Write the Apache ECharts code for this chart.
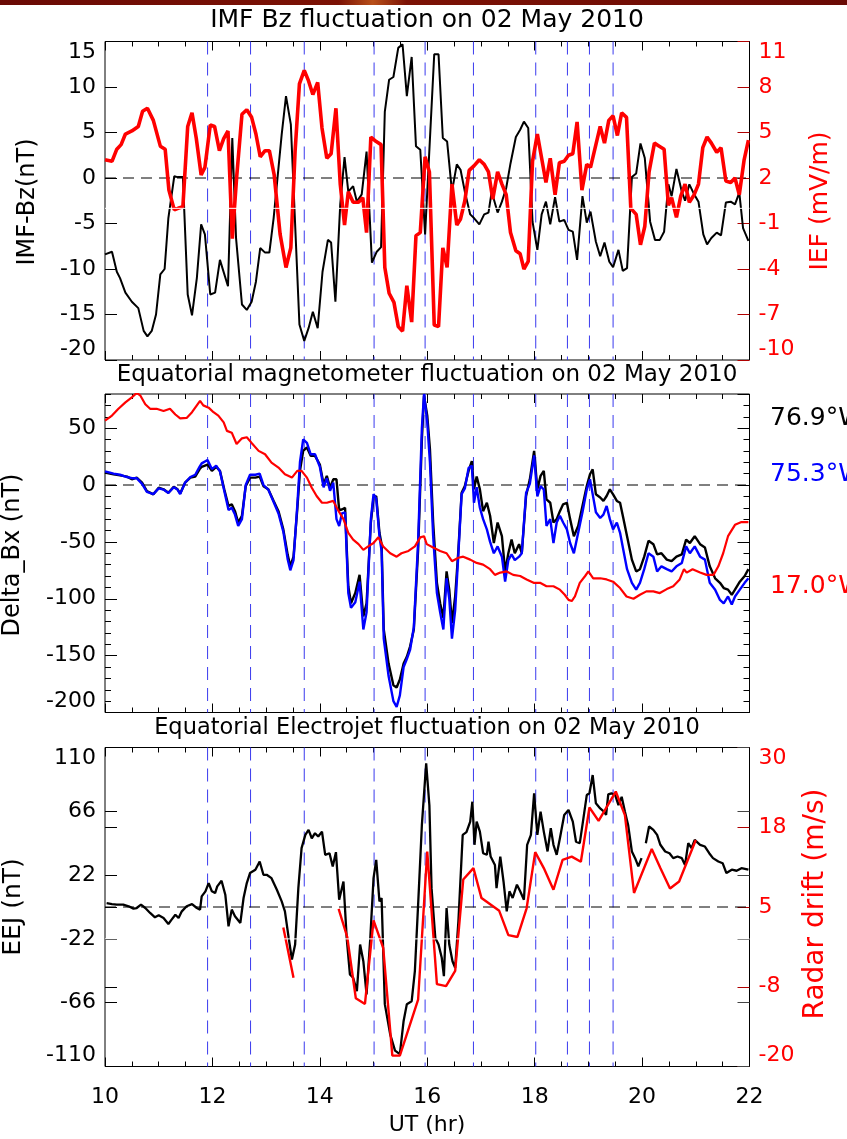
<!DOCTYPE html>
<html><head><meta charset="utf-8">
<script src="https://cdn.jsdelivr.net/npm/echarts@6/dist/echarts.min.js"></script>
<style>html,body{margin:0;padding:0;background:#fff}#c{width:847px;height:1139px}</style>
</head><body><div id="c"></div>
<script>
// ---------------- DATA ----------------
const imfBz = [[10.00,-8.4],[10.13,-8.1],[10.22,-10.3],[10.28,-11.0],[10.38,-12.6],[10.50,-13.6],[10.62,-14.3],[10.72,-16.8],[10.79,-17.4],[10.87,-16.8],[10.95,-15.0],[11.03,-10.6],[11.11,-10.0],[11.18,-4.4],[11.29,0.2],[11.35,0.1],[11.45,0.1],[11.54,-12.8],[11.62,-15.1],[11.71,-11.0],[11.79,-5.1],[11.86,-6.2],[11.96,-12.8],[12.05,-12.6],[12.14,-9.0],[12.29,-11.9],[12.37,4.4],[12.44,-6.6],[12.55,-13.9],[12.64,-14.5],[12.73,-13.6],[12.81,-11.4],[12.89,-7.7],[12.98,-8.2],[13.06,-8.2],[13.14,-4.4],[13.29,4.8],[13.37,9.0],[13.46,5.9],[13.54,-5.1],[13.62,-16.1],[13.71,-17.9],[13.79,-16.5],[13.87,-14.7],[13.96,-16.5],[14.05,-10.3],[14.15,-6.8],[14.21,-7.1],[14.29,-13.6],[14.38,-2.9],[14.46,2.3],[14.53,-1.5],[14.62,-0.9],[14.69,-2.6],[14.78,-1.8],[14.87,2.9],[14.97,-9.3],[15.06,-8.1],[15.14,-7.6],[15.21,7.3],[15.29,10.8],[15.37,11.1],[15.46,14.3],[15.54,14.7],[15.62,9.0],[15.71,13.3],[15.79,3.5],[15.87,3.1],[15.96,-6.2],[16.13,13.6],[16.21,13.6],[16.29,4.4],[16.37,4.0],[16.46,-1.5],[16.55,1.5],[16.62,0.9],[16.70,-1.5],[16.80,-4.0],[16.87,-4.4],[16.97,-5.1],[17.06,-4.0],[17.14,-3.8],[17.20,-1.5],[17.31,-3.8],[17.39,-2.6],[17.47,-1.1],[17.55,1.6],[17.65,4.5],[17.73,5.3],[17.80,6.2],[17.88,5.5],[17.96,-4.8],[18.05,-7.9],[18.13,-4.0],[18.21,-2.6],[18.29,-5.1],[18.38,-2.1],[18.46,-4.8],[18.55,-4.6],[18.63,-5.7],[18.71,-5.9],[18.79,-9.0],[18.89,-2.0],[18.97,-4.9],[19.04,-3.7],[19.14,-7.0],[19.22,-8.6],[19.30,-7.1],[19.39,-9.2],[19.46,-9.8],[19.56,-7.9],[19.64,-10.2],[19.72,-9.9],[19.81,0.1],[19.89,0.5],[19.97,3.8],[20.05,2.2],[20.15,-4.8],[20.24,-6.8],[20.33,-6.8],[20.41,-5.9],[20.49,-0.7],[20.55,-2.0],[20.64,1.0],[20.74,-1.5],[20.80,-2.5],[20.88,-0.7],[20.97,-1.8],[21.05,-2.6],[21.14,-6.2],[21.21,-7.3],[21.29,-6.6],[21.39,-6.0],[21.47,-6.3],[21.56,-2.7],[21.65,-2.6],[21.73,-2.9],[21.81,-1.6],[21.88,-5.5],[21.98,-6.9]];

const iefMvm = [[10.00,3.2],[10.13,3.1],[10.22,3.9],[10.30,4.2],[10.38,4.9],[10.50,5.1],[10.62,5.4],[10.70,6.4],[10.79,6.6],[10.90,5.8],[11.03,4.1],[11.12,3.9],[11.19,1.2],[11.29,-0.1],[11.36,0.0],[11.45,0.1],[11.54,5.4],[11.62,6.3],[11.70,4.6],[11.79,2.2],[11.86,2.7],[11.96,5.5],[12.04,5.4],[12.13,3.8],[12.21,4.6],[12.29,5.1],[12.37,-2.0],[12.45,2.0],[12.55,6.2],[12.64,6.5],[12.73,6.0],[12.81,4.9],[12.89,3.4],[12.98,3.8],[13.06,3.8],[13.15,2.2],[13.26,-1.7],[13.37,-3.9],[13.46,-2.6],[13.54,3.8],[13.62,8.2],[13.71,9.1],[13.79,8.4],[13.87,7.5],[13.96,8.3],[14.04,5.3],[14.13,3.3],[14.21,3.6],[14.30,6.6],[14.38,1.6],[14.46,-1.1],[14.53,1.1],[14.62,0.4],[14.72,0.4],[14.80,0.7],[14.87,-1.6],[14.95,4.7],[15.05,4.4],[15.14,4.2],[15.21,-3.9],[15.29,-5.6],[15.38,-6.2],[15.46,-7.8],[15.54,-8.1],[15.62,-5.1],[15.71,-7.5],[15.79,-1.8],[15.87,-1.6],[15.96,3.4],[16.04,2.4],[16.13,-7.7],[16.21,-7.8],[16.29,-2.6],[16.37,-3.9],[16.46,1.6],[16.55,-1.1],[16.62,-0.7],[16.70,0.5],[16.78,2.5],[16.87,2.8],[16.97,3.2],[17.06,2.9],[17.14,2.4],[17.22,0.6],[17.31,2.4],[17.39,1.6],[17.47,0.9],[17.55,-1.6],[17.65,-2.8],[17.73,-3.0],[17.80,-4.0],[17.88,-3.5],[17.96,3.1],[18.05,4.9],[18.13,3.3],[18.21,1.7],[18.29,3.3],[18.38,0.9],[18.46,3.0],[18.55,3.1],[18.63,3.5],[18.71,3.6],[18.79,5.7],[18.88,1.2],[18.97,2.9],[19.04,2.7],[19.14,4.2],[19.22,5.4],[19.30,4.3],[19.38,5.8],[19.46,6.1],[19.54,4.8],[19.62,6.3],[19.71,6.0],[19.79,0.0],[19.89,-0.4],[19.97,-2.4],[20.05,-1.2],[20.13,2.4],[20.23,4.3],[20.32,4.1],[20.41,3.9],[20.49,0.2],[20.55,0.7],[20.64,-0.6],[20.72,0.8],[20.80,1.6],[20.88,0.4],[20.97,0.9],[21.05,1.6],[21.13,4.0],[21.21,4.7],[21.29,4.3],[21.39,3.7],[21.47,4.0],[21.56,1.8],[21.65,1.7],[21.73,2.0],[21.81,0.9],[21.90,3.2],[21.98,4.5]];

const mag769W = [[10.00,11],[10.16,9.4],[10.28,8.5],[10.41,7.4],[10.50,5],[10.59,6.5],[10.69,2],[10.78,-5.3],[10.90,-8.2],[11.00,-2.4],[11.09,-3.8],[11.18,-6.8],[11.28,-1.5],[11.35,-3.8],[11.40,-7.4],[11.49,2],[11.59,6.5],[11.68,7.4],[11.76,13.8],[11.80,16],[11.91,18],[11.99,12.4],[12.07,16],[12.14,12.4],[12.22,-3.8],[12.30,-18.5],[12.36,-17],[12.42,-23],[12.48,-33],[12.55,-27],[12.62,-1],[12.70,6.5],[12.80,6.5],[12.88,7.4],[12.95,-1],[13.04,-3.8],[13.14,-14],[13.23,-23],[13.32,-39],[13.40,-61],[13.45,-71.5],[13.51,-63],[13.58,-21.5],[13.63,12.4],[13.69,30],[13.76,33],[13.83,25.6],[13.91,25.6],[14.00,18],[14.07,0.6],[14.13,8],[14.19,-2.4],[14.25,5],[14.31,5],[14.36,-22],[14.41,-21.5],[14.47,-20],[14.53,-89],[14.58,-104],[14.66,-95],[14.74,-79],[14.81,-115.6],[14.87,-104],[14.95,-33],[15.00,-11],[15.05,-9.7],[15.11,-42],[15.15,-52],[15.19,-127],[15.28,-157],[15.37,-176],[15.43,-178],[15.49,-171],[15.56,-157],[15.62,-151],[15.68,-142],[15.75,-127],[15.83,-57],[15.90,40],[15.94,78.5],[16.00,61],[16.05,31.5],[16.11,-33],[16.18,-86],[16.24,-104],[16.30,-117],[16.36,-76],[16.41,-92],[16.46,-121.5],[16.52,-98],[16.58,-57],[16.64,-6.8],[16.70,-0.9],[16.77,12.4],[16.83,21],[16.87,-3.8],[16.92,7.4],[16.98,-3.8],[17.04,-23],[17.11,-15.6],[17.17,-27],[17.24,-51],[17.31,-33],[17.39,-45],[17.45,-76],[17.51,-60],[17.57,-48],[17.63,-60],[17.71,-52],[17.76,-60],[17.84,-9.7],[17.91,5],[17.99,30],[18.05,-3.8],[18.11,8],[18.17,12.4],[18.22,-12.6],[18.29,-15.6],[18.35,-33],[18.41,-30],[18.47,-23],[18.53,-17],[18.60,-15.6],[18.66,-30],[18.73,-45],[18.81,-36],[18.89,-18.5],[18.97,-0.9],[19.03,9.4],[19.08,13.8],[19.14,-8.2],[19.22,-11],[19.28,-14],[19.34,-9.7],[19.40,-3.8],[19.46,-8.2],[19.53,-14],[19.59,-15.6],[19.65,-29],[19.72,-45],[19.81,-65.6],[19.89,-76],[19.96,-74],[20.04,-63],[20.12,-49],[20.21,-52],[20.28,-61],[20.36,-60],[20.46,-65.6],[20.55,-67],[20.64,-63],[20.74,-61],[20.82,-48],[20.89,-51],[20.98,-45],[21.08,-52],[21.17,-55],[21.26,-71.5],[21.36,-82],[21.45,-86],[21.52,-90.6],[21.60,-92],[21.67,-96.5],[21.73,-92],[21.82,-85],[21.91,-80],[21.98,-74]];

const mag753W = [[10.00,12],[10.16,10],[10.28,9],[10.41,7],[10.50,6],[10.59,6],[10.69,1],[10.78,-6],[10.90,-8],[11.00,-3],[11.09,-4],[11.18,-7],[11.28,-2],[11.35,-4],[11.40,-8],[11.49,2],[11.59,7],[11.68,9],[11.76,16],[11.80,19],[11.91,22],[11.99,14],[12.07,17],[12.14,12],[12.22,-5],[12.30,-22],[12.36,-20],[12.42,-26],[12.48,-36],[12.55,-30],[12.62,0],[12.70,9],[12.80,9],[12.88,10],[12.95,0],[13.04,-4],[13.14,-15],[13.23,-25],[13.32,-41],[13.40,-65],[13.45,-75],[13.51,-66],[13.58,-18],[13.63,20],[13.69,40],[13.76,37],[13.83,27],[13.91,27],[14.00,16],[14.07,-2],[14.13,6],[14.19,-5],[14.25,2],[14.31,-30],[14.36,-36],[14.41,-25],[14.47,-24],[14.53,-95],[14.58,-108],[14.66,-103],[14.74,-85],[14.81,-127],[14.87,-112],[14.95,-30],[15.00,-8],[15.05,-12],[15.11,-45],[15.15,-58],[15.19,-135],[15.28,-168],[15.37,-190],[15.43,-195],[15.49,-185],[15.56,-160],[15.62,-153],[15.68,-145],[15.75,-125],[15.83,-50],[15.90,50],[15.94,80],[16.00,55],[16.05,20],[16.11,-45],[16.18,-95],[16.24,-112],[16.30,-127],[16.36,-82],[16.41,-100],[16.46,-135],[16.52,-110],[16.58,-60],[16.64,-8],[16.70,-3],[16.77,15],[16.83,17],[16.87,-15.6],[16.92,-2],[16.98,-20],[17.04,-30],[17.11,-39],[17.17,-50],[17.24,-60],[17.31,-54],[17.39,-63],[17.45,-85],[17.51,-66],[17.57,-61],[17.63,-66],[17.71,-63],[17.76,-60],[17.84,-7],[17.91,1],[17.99,26],[18.05,-10],[18.11,-1],[18.17,-4],[18.22,-36],[18.29,-30],[18.35,-51],[18.41,-33],[18.47,-27],[18.53,-33],[18.60,-39],[18.66,-51],[18.73,-60],[18.81,-42],[18.89,-24],[18.97,-4],[19.03,5],[19.08,-8],[19.14,-24],[19.22,-29],[19.28,-26],[19.34,-18.5],[19.40,-30],[19.46,-39],[19.53,-33],[19.59,-42],[19.65,-57],[19.72,-74],[19.81,-86],[19.89,-92],[19.96,-86],[20.04,-74],[20.12,-60],[20.21,-63],[20.28,-76],[20.36,-71.5],[20.46,-74],[20.55,-76],[20.64,-71.5],[20.74,-68.5],[20.82,-54],[20.89,-60],[20.98,-54],[21.08,-63],[21.17,-65.6],[21.26,-86],[21.36,-92],[21.45,-101],[21.52,-104],[21.60,-98],[21.67,-105],[21.73,-98],[21.82,-92],[21.91,-86],[21.98,-82]];

const mag170W = [[10.00,56.5],[10.13,61],[10.25,67],[10.38,72.6],[10.50,77],[10.59,81],[10.66,78.5],[10.75,71],[10.84,67],[10.96,67],[11.09,65],[11.21,67],[11.31,62],[11.40,58.5],[11.52,59],[11.62,64],[11.71,70],[11.77,74],[11.83,70],[11.93,68],[12.02,64],[12.11,61],[12.21,55],[12.27,47.6],[12.36,46],[12.45,36],[12.55,41],[12.64,42],[12.73,37],[12.86,30],[12.98,27],[13.10,19.7],[13.23,15.3],[13.35,9.4],[13.48,6.5],[13.58,12.4],[13.66,12.4],[13.76,6.5],[13.85,-2.4],[13.94,-9.7],[14.04,-15.6],[14.13,-15.6],[14.25,-14],[14.35,-23],[14.44,-30],[14.53,-42],[14.62,-48],[14.72,-52],[14.81,-57],[14.90,-54],[15.00,-51],[15.09,-46],[15.18,-54],[15.31,-60],[15.43,-63],[15.52,-60],[15.65,-58],[15.77,-54],[15.87,-46],[15.94,-45],[15.99,-52],[16.11,-55],[16.24,-58],[16.36,-60],[16.46,-67],[16.58,-64],[16.67,-63],[16.80,-65.6],[16.92,-68.5],[17.04,-70],[17.17,-74],[17.26,-79],[17.36,-77],[17.48,-76],[17.60,-79],[17.73,-80],[17.85,-83],[17.98,-86],[18.10,-86],[18.22,-89],[18.35,-89],[18.47,-92],[18.56,-96.5],[18.63,-101],[18.69,-102],[18.75,-98],[18.84,-86],[18.94,-80],[19.00,-76],[19.09,-82],[19.22,-82],[19.34,-83],[19.46,-85],[19.59,-90.6],[19.71,-98],[19.84,-100],[19.96,-96.5],[20.08,-93.5],[20.21,-93.5],[20.33,-95],[20.46,-91.5],[20.58,-89],[20.70,-83],[20.78,-74],[20.83,-77],[20.94,-74],[21.08,-77],[21.20,-79],[21.33,-79],[21.42,-71.5],[21.51,-60],[21.60,-45],[21.73,-35],[21.85,-32.6],[21.98,-32.6]];

const eejNt = [[10.03,2.7],[10.13,2.0],[10.22,1.6],[10.34,1.6],[10.44,0.5],[10.53,-1.1],[10.59,-0.7],[10.67,1.6],[10.75,-0.7],[10.84,-4.1],[10.93,-7.1],[11.00,-5.7],[11.09,-7.6],[11.18,-11.7],[11.24,-8.7],[11.31,-5.3],[11.37,-7.6],[11.43,-3.0],[11.52,0.5],[11.62,2.0],[11.71,-0.7],[11.77,-1.8],[11.80,7.3],[11.87,10.8],[11.93,16.5],[11.99,10.8],[12.05,9.6],[12.09,14.2],[12.17,18.1],[12.24,8.5],[12.30,-13.3],[12.36,-1.8],[12.42,-6.4],[12.52,-11],[12.58,6.2],[12.64,16.5],[12.70,23.4],[12.80,25.7],[12.88,31.4],[12.95,22.2],[13.01,22.2],[13.10,19.9],[13.20,11.9],[13.29,3.9],[13.35,-3.0],[13.42,-21.3],[13.48,-36.2],[13.54,-25.9],[13.60,13.0],[13.66,40.6],[13.73,49.7],[13.79,53.2],[13.85,47.4],[13.91,50.9],[13.97,48.6],[14.04,52.0],[14.10,36.0],[14.18,37.1],[14.24,28.0],[14.30,37.8],[14.36,5.0],[14.44,17.6],[14.50,-21.3],[14.56,-46.5],[14.62,-48.8],[14.69,-58],[14.75,-25.9],[14.81,-37.4],[14.87,-60.3],[14.94,-21.3],[15.00,19.9],[15.05,32.5],[15.11,3.9],[15.15,6.2],[15.21,-67],[15.31,-87.8],[15.40,-99],[15.49,-101.5],[15.56,-78.6],[15.62,-67],[15.71,-65],[15.77,-44],[15.83,1.6],[15.90,56.6],[15.98,99],[16.04,70],[16.08,13],[16.15,-21.3],[16.21,-25.9],[16.27,-35],[16.31,-47.7],[16.36,-0.7],[16.41,-25.9],[16.47,-37.4],[16.52,-42],[16.58,-9.9],[16.66,49.7],[16.73,51.6],[16.80,58.9],[16.84,72.6],[16.88,42.9],[16.92,58.9],[16.98,52],[17.04,37.1],[17.11,36],[17.14,45],[17.18,34.8],[17.26,29],[17.29,13],[17.36,34.8],[17.42,17.6],[17.48,-3],[17.53,10.8],[17.59,6.2],[17.67,15.4],[17.73,10.8],[17.80,5],[17.86,42.9],[17.93,49.7],[17.99,78.4],[18.05,49.7],[18.11,65.8],[18.17,52],[18.24,38.3],[18.30,54.3],[18.35,42.9],[18.41,36],[18.47,47.4],[18.55,63.5],[18.63,66.9],[18.71,58.9],[18.77,45],[18.84,44],[18.89,56.6],[18.97,77.2],[19.02,78.4],[19.08,91],[19.14,71.5],[19.22,68],[19.29,65.8],[19.33,63.5],[19.37,77.7],[19.43,78.4],[19.50,77.2],[19.56,70.3],[19.62,76],[19.68,65.8],[19.74,56.6],[19.81,38.3],[19.87,33.7],[19.93,28],[19.99,33.7],[20.03,null],[20.07,44],[20.13,55.5],[20.21,53.2],[20.28,49.7],[20.34,42.9],[20.43,38.3],[20.51,37.1],[20.58,33.7],[20.66,34.8],[20.74,33.7],[20.80,29],[20.86,44],[20.92,40.6],[20.98,46.3],[21.08,42.9],[21.17,41.7],[21.25,37.1],[21.32,33.7],[21.42,31.4],[21.50,30.2],[21.57,23.4],[21.67,25.7],[21.76,25],[21.85,26.8],[21.98,25.7]];

const radarDrift = [[13.32,1.8],[13.51,-6.1],[13.90,null],[14.35,4.7],[14.51,0.3],[14.67,-9.3],[14.84,-10.2],[15.00,2.9],[15.18,-1.4],[15.35,-18.3],[15.49,-18.3],[15.83,-9.5],[16.00,13.7],[16.18,-7.1],[16.35,-7.4],[16.52,-5.0],[16.67,9.3],[16.86,11.1],[17.01,6.4],[17.34,4.4],[17.51,0.6],[17.68,0.3],[17.85,4.8],[18.01,13.6],[18.17,11.1],[18.35,7.7],[18.52,12.4],[18.69,12.9],[18.86,12.1],[19.02,20.6],[19.19,18.5],[19.51,23.1],[19.68,19.4],[19.85,7.2],[20.18,14.1],[20.34,11.1],[20.52,7.9],[20.69,9.0],[21.00,15.5]];

const eventTimes = [11.91, 12.71, 13.71, 15.01, 15.96, 16.86, 18.02, 18.61, 19.02, 19.46];
const stationLabels = ['76.9°W', '75.3°W', '17.0°W'];
const titles = ['IMF Bz fluctuation on 02 May 2010', 'Equatorial magnetometer fluctuation on 02 May 2010', 'Equatorial Electrojet fluctuation on 02 May 2010'];

// ---------------- LAYOUT ----------------
const FONT = 'DejaVu Sans';
const L = 105, W = 644.5;
const G = [{top: 41.5, h: 318.5}, {top: 394, h: 318.5}, {top: 747.5, h: 319}];
const RED = '#ff0000', DRED = '#b00000', BLUE = '#3a3aee';
const X0 = 10, X1 = 22;

const chart = echarts.init(document.getElementById('c'), null, {renderer: 'canvas'});

function xAx(gi, pos, labels) {
  return {
    type: 'value', gridIndex: gi, position: pos, min: X0, max: X1, interval: 2,
    axisLine: {show: false, onZero: false}, splitLine: {show: false},
    axisTick: {show: true, inside: true, length: 9, lineStyle: {color: '#000', width: 1}},
    minorTick: {show: true, splitNumber: 4, length: 5, lineStyle: {color: '#000', width: 1}},
    axisLabel: {show: labels, fontFamily: FONT, fontSize: 22, color: '#000', margin: 20}
  };
}
function yAx(gi, pos, min, max, interval, o) {
  o = o || {};
  return {
    type: 'value', gridIndex: gi, position: pos, min: min, max: max, interval: interval,
    axisLine: {show: false, onZero: false}, splitLine: {show: false},
    axisTick: {show: true, inside: true, length: o.tl || 12, lineStyle: {color: o.tc || '#000', width: 1}},
    axisLabel: {
      show: !!o.labels, fontFamily: FONT, fontSize: 22, color: o.lc || '#000', margin: 9,
      showMaxLabel: o.showMax !== false, verticalAlignMinLabel: 'bottom', verticalAlignMaxLabel: 'top',
      formatter: o.fmt
    }
  };
}
const roundHalfAway = v => (v < 0 ? '-' : '') + Math.round(Math.abs(v));

const xAxis = [
  xAx(0, 'bottom', false), xAx(0, 'top', false),
  xAx(1, 'bottom', false), xAx(1, 'top', false),
  xAx(2, 'bottom', true), xAx(2, 'top', false)
];
const PY = [[-20, 15], [-200, 80], [-110, 110]];  // left-axis extents per panel
const yAxis = [
  yAx(0, 'left', -20, 15, 5, {labels: true}),                       // 0 Bz
  yAx(0, 'right', -10, 11, 3, {labels: true, lc: RED, tc: DRED}),   // 1 IEF
  yAx(1, 'left', -200, 80, 50, {labels: true, showMax: false}),     // 2
  yAx(1, 'left', -200, 80, 10, {tl: 6}),                            // 3
  yAx(1, 'right', -200, 80, 50, {}),                                // 4
  yAx(1, 'right', -200, 80, 10, {tl: 6}),                           // 5
  yAx(2, 'left', -110, 110, 44, {labels: true}),                    // 6 EEJ
  yAx(2, 'right', -20, 30, 12.5, {labels: true, lc: RED, tc: DRED, fmt: roundHalfAway}), // 7 radar
  yAx(2, 'left', -20, 30, 12.5, {}),                                // 8
  yAx(2, 'right', -110, 110, 44, {tc: '#444'})                      // 9
];

function ln(name, data, xi, yi, color, width, z, dash) {
  return {name, type: 'line', data, xAxisIndex: xi, yAxisIndex: yi, showSymbol: false, symbol: 'none',
    connectNulls: false, silent: true, lineStyle: {color, width, type: dash || 'solid'}, itemStyle: {color}, z: z, animation: false,
    emphasis: {disabled: true}};
}
// event lines: each event time spans the panel's left-axis extent, separated by gaps
function eventData(ext) {
  const d = [];
  eventTimes.forEach(t => { d.push([t, ext[1]], [t, ext[0]], [t, null]); });
  return d;
}
function zeroData() { return [[X0, 0], [X1, 0]]; }

const series = [];
[[0, 0], [2, 2], [4, 6]].forEach(([xi, yi], p) => {
  series.push(ln('events' + p, eventData(PY[p]), xi, yi, BLUE, 1, 1, [13, 8]));
  series.push(ln('zero' + p, zeroData(), xi, yi, '#000', 1, 1, [11, 7]));
});
series.push(
  ln('IMF Bz', imfBz, 0, 0, '#000', 2, 3),
  ln('IEF', iefMvm, 0, 1, RED, 3.6, 4),
  ln('IEF zero', zeroData(), 0, 1, '#ffffff', 1, 10),
  ln('76.9W', mag769W, 2, 2, '#000', 2.4, 3),
  ln('75.3W', mag753W, 2, 2, '#0000ff', 2.4, 4),
  ln('17.0W', mag170W, 2, 2, RED, 2.2, 5),
  ln('EEJ', eejNt, 4, 6, '#000', 2.3, 3),
  ln('Radar drift', radarDrift, 4, 7, RED, 2.4, 4),
  ln('Radar zero', zeroData(), 4, 7, '#ffffff', 1, 10)
);

function txt(text, x, y, size, color, rot, align) {
  return {type: 'text', x: x, y: y, rotation: rot || 0, z: 100,
    style: {text: text, font: size + 'px "' + FONT + '"', fill: color, textAlign: align || 'center',
      textVerticalAlign: 'middle', verticalAlign: 'middle'}};
}
const R90 = Math.PI / 2;
const graphic = [
  {type: 'rect', shape: {x: 0, y: 0, width: 847, height: 5}, z: 100,
    style: {fill: new echarts.graphic.LinearGradient(0, 0, 1, 0, [
      {offset: 0, color: '#6a0a05'}, {offset: 0.4, color: '#7c1205'}, {offset: 0.44, color: '#b8501a'},
      {offset: 0.48, color: '#7c1205'}, {offset: 1, color: '#6a0a05'}])}},
  txt(titles[0], 427, 20, 25, '#000'),
  txt(titles[1], 427, 375, 23, '#000'),
  txt(titles[2], 427, 728, 22.5, '#000'),
  txt('IMF-Bz(nT)', 28, 202, 24, '#000', R90),
  txt('IEF (mV/m)', 820, 201, 25, RED, R90),
  txt('Delta_Bx (nT)', 13, 555, 24, '#000', R90),
  txt('EEJ (nT)', 13, 907, 25, '#000', R90),
  txt('Radar drift (m/s)', 816, 904, 28, RED, R90),
  txt('UT (hr)', 427, 1125, 22, '#000'),
  txt(stationLabels[0], 770, 418, 25, '#000', 0, 'left'),
  txt(stationLabels[1], 770, 474, 25, '#0000ff', 0, 'left'),
  txt(stationLabels[2], 770, 586, 25, RED, 0, 'left')
];

chart.setOption({
  animation: false,
  backgroundColor: '#fff',
  grid: G.map(g => ({left: L, width: W, top: g.top, height: g.h, show: true, borderColor: '#000', borderWidth: 1, backgroundColor: 'transparent', containLabel: false})),
  xAxis, yAxis, series, graphic
});
</script></body></html>
